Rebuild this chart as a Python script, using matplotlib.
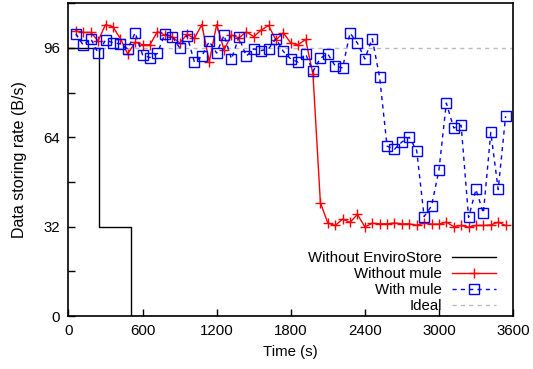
import matplotlib
matplotlib.use("Agg")
import matplotlib.pyplot as plt
import numpy as np

plt.rcParams['font.family'] = ['Liberation Sans', 'DejaVu Sans']

# Data
time_s = list(range(60, 3600, 60))  # 60 .. 3540
without_mule = [102, 101.5, 101.5, 98.5, 104.3, 103.5, 99.3, 93.8, 98, 97.1,
                97.1, 101.8, 100.6, 100, 97.7, 100.8, 99.4, 104.3, 91, 104.3,
                95.3, 100.6, 99.5, 101.7, 100, 102.3, 104, 98.8, 101.4, 97.7,
                97.1, 99, 86.5, 40.6, 33.3, 32.4, 34.7, 33.5, 36.4, 31.9,
                33.2, 33, 33, 33.3, 33, 33, 32.5, 33.3, 32.9, 32.9,
                33.6, 32, 32.4, 31.8, 32.4, 32.4, 32.6, 33.6, 32.4]
with_mule = [101, 96.9, 99.3, 94.1, 98.8, 97.8, 97.4, 95.6, 101.4, 93.5,
             92.5, 94, 101, 100, 96, 100.4, 90.8, 93, 98.3, 94.1,
             100.5, 92, 99.8, 93, 95.6, 95, 95.6, 99.3, 94.7, 92,
             90.9, 93.8, 87.6, 92.3, 93.8, 89.5, 88.8, 101.3, 97.7, 92,
             99.3, 85.4, 60.8, 59.7, 62.3, 64, 59.2, 35.6, 39.4, 52.2,
             76.2, 67.3, 68.3, 35.3, 45.3, 36.8, 65.7, 45.3, 71.5]
enviro_t = [0, 250, 250, 505, 505, 3600]
enviro_v = [96, 96, 32, 32, 0, 0]
ideal_t = [0, 3600]
ideal_v = [96, 96]

x_ticks = [0, 600, 1200, 1800, 2400, 3000, 3600]
y_ticks = [0, 16, 32, 48, 64, 80, 96, 112]
y_labels = ['0', '', '32', '', '64', '', '96', '']

fig = plt.figure(figsize=(5.33, 3.69), dpi=100)
ax = fig.add_axes([0.1285, 0.1436, 0.834, 0.848])

ax.plot(enviro_t, enviro_v, color='black', lw=1.0, label='Without EnviroStore')
ax.plot(time_s, without_mule, color='#ff0000', lw=1.0, marker='+', ms=7,
        mew=1.0, label='Without mule')
ax.plot(time_s, with_mule, color='#0000ff', lw=1.0, ls=(0, (3, 3)), marker='s',
        ms=7, mfc='none', mew=1.0, label='With mule')
ax.plot(ideal_t, ideal_v, color='#bbbbbb', lw=1.0, ls=(0, (3, 3)), label='Ideal',
        zorder=1)

ax.set_xlim(0, 3600)
ax.set_ylim(0, 112)
ax.set_xticks(x_ticks)
ax.set_yticks(y_ticks)
ax.set_yticklabels(y_labels)
ax.tick_params(direction='in', length=5, width=1, labelsize=10.8, pad=6)
for s in ax.spines.values():
    s.set_linewidth(1.2)

ax.set_xlabel('Time (s)', fontsize=10.8, labelpad=5)
ax.set_ylabel('Data storing rate (B/s)', fontsize=11.5, labelpad=12)

leg = ax.legend(loc='lower right', frameon=False, markerfirst=False, fontsize=10.8,
                handlelength=2.9, labelspacing=0.12, borderaxespad=0.0,
                handletextpad=0.7, bbox_to_anchor=(0.975, -0.009))
for t in leg.get_texts():
    t.set_ha('right')

fig.savefig('out.png', dpi=100)
